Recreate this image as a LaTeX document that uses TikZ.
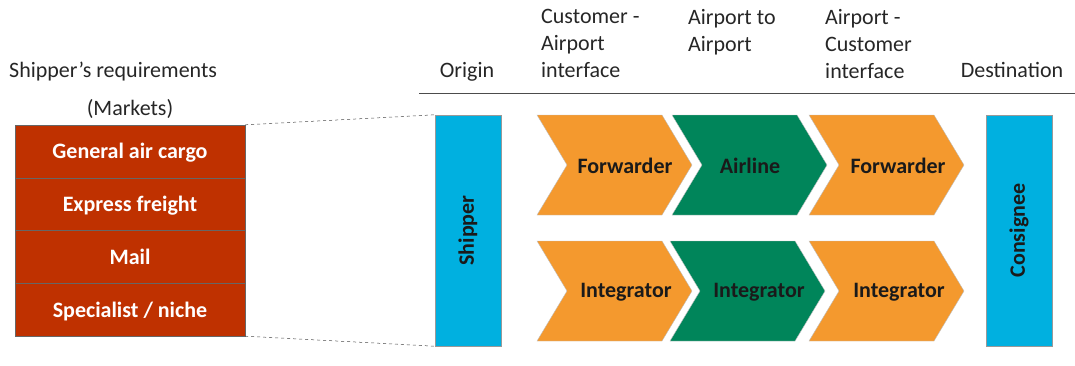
\documentclass[tikz,border=0pt]{standalone}
\usepackage{fontspec}
\setmainfont{Carlito}
\definecolor{mred}{HTML}{BF3100}
\definecolor{morange}{HTML}{F4992E}
\definecolor{mgreen}{HTML}{00855A}
\definecolor{mblue}{HTML}{00B0E0}
\definecolor{mtext}{HTML}{1A1A1A}
\tikzset{
  hdr/.style={font=\fontsize{22}{27}\selectfont, text=black!85, inner sep=0pt},
  hdrl/.style={hdr, anchor=north west, align=left},
  mkt/.style={draw=black!60, fill=mred, minimum width=230pt, minimum height=52.75pt, inner sep=0pt, text height=18pt, text depth=3pt, text=white, font=\bfseries\fontsize{22}{24}\selectfont},
  endbox/.style={draw=black!40, fill=mblue, minimum width=66pt, minimum height=231pt, inner sep=0pt, text=mtext, font=\bfseries\fontsize{22}{24}\selectfont},
  chevlbl/.style={text=mtext, font=\bfseries\fontsize{22}{24}\selectfont, inner sep=0pt},
}
\newcommand{\chev}[6]{%
  \fill[#4, draw=black!25, line width=0.4pt] (#2,#3) -- ++(125,0) -- ++(30,50) -- ++(-30,50) -- ++(-125,0) -- ++(30,-50) -- cycle;
  \node[chevlbl] (#1) at (#2+#5,#3+51) {#6};}
\begin{document}
\begin{tikzpicture}[x=1pt,y=-1pt]
\useasboundingbox (0,0) rectangle (1075,365);
% headers
\node[hdr, anchor=base west] (req) at (9,77) {Shipper’s requirements};
\node[hdr, anchor=base] (mk) at (130,115) {(Markets)};
\node[hdr, anchor=base] (org) at (467,77) {Origin};
\node[hdrl] (cai) at (541,9) {Customer -\\Airport\\interface};
\node[hdrl] (ata) at (688,9) {Airport to\\Airport};
\node[hdrl] (aci) at (825,9) {Airport -\\Customer\\interface};
\node[hdr, anchor=base] (dst) at (1012,77) {Destination};
\coordinate (hl1) at (419,93);
\coordinate (hl2) at (1075,93);
\draw[black!70, line width=0.8pt] (hl1) -- (hl2);
% markets
\node[mkt] (m1) at (130,151.4) {General air cargo};
\node[mkt] (m2) at (130,204.1) {Express freight};
\node[mkt] (m3) at (130,256.9) {Mail};
\node[mkt] (m4) at (130,309.6) {Specialist / niche};
% end boxes
\node[endbox] (ship) at (468,230.5) {\rotatebox{90}{Shipper}};
\node[endbox] (cons) at (1019,230.5) {\rotatebox{90}{Consignee}};
\draw[dashed, black!70, line width=0.5pt] (m1.north east) -- (ship.north west);
\draw[dashed, black!70, line width=0.5pt] (m4.south east) -- (ship.south west);
% chevrons
\chev{f1}{537}{115}{morange}{88}{Forwarder}
\chev{al}{672}{115}{mgreen}{78}{Airline}
\chev{f2}{809}{115}{morange}{89}{Forwarder}
\chev{i1}{537}{241}{morange}{89}{Integrator}
\chev{i2}{670}{241}{mgreen}{89}{Integrator}
\chev{i3}{809}{241}{morange}{90}{Integrator}
\end{tikzpicture}
\end{document}
